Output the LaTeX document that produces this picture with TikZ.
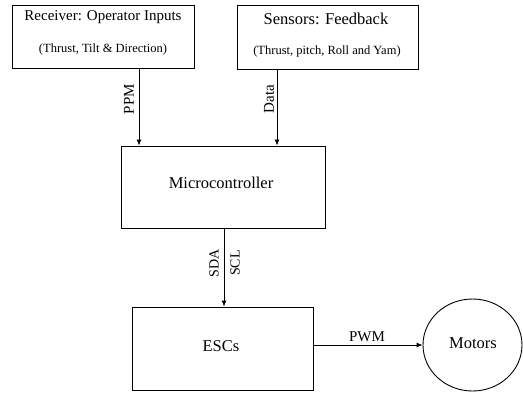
\documentclass[tikz,border=0pt]{standalone}
\usepackage{fontspec}
\setmainfont{Liberation Serif}
\usetikzlibrary{arrows.meta,shapes.geometric}
\begin{document}
\begin{tikzpicture}[x=1pt,y=-1pt,
  box/.style={draw,line width=0.9pt,rectangle,inner sep=0pt},
  lbl/.style={inner sep=0pt,font=\fontsize{16.5}{18}\selectfont},
  sublbl/.style={inner sep=0pt,font=\fontsize{12.5}{14}\selectfont},
  conlbl/.style={inner sep=0pt,font=\fontsize{15}{17}\selectfont},
  arr/.style={line width=0.9pt,-{Latex[length=6pt,width=5pt]}}]
\useasboundingbox[fill=white] (0,0) rectangle (523,397);
% boxes
\node[box,minimum width=182pt,minimum height=63pt] (rec) at (103,36.5) {};
\node[box,minimum width=181pt,minimum height=64pt] (sen) at (327.5,37) {};
\node[box,minimum width=204pt,minimum height=82pt] (mc) at (223,187) {};
\node[box,minimum width=181pt,minimum height=83pt] (esc) at (222.5,348.5) {};
\node[draw,line width=0.9pt,ellipse,inner sep=0pt,minimum width=99pt,minimum height=92pt] (mot) at (472.5,345) {};
% texts
\node[lbl,font=\fontsize{15}{17}\selectfont] (rect) at (103,17) {Receiver: Operator Inputs};
\node[sublbl] (recs) at (103,49) {(Thrust, Tilt \& Direction)};
\node[lbl] (sent) at (326,19) {Sensors: Feedback};
\node[sublbl] (sens) at (327,51) {(Thrust, pitch, Roll and Yam)};
\node[lbl] (mct) at (221,183) {Microcontroller};
\node[lbl] (esct) at (221,346) {ESCs};
\node[lbl] (mott) at (473,343) {Motors};
% connectors
\coordinate (p1) at (139,0);
\coordinate (p2) at (277,0);
\coordinate (p3) at (224,0);
\draw[arr] (p1 |- rec.south) -- (p1 |- mc.north);
\draw[arr] (p2 |- sen.south) -- (p2 |- mc.north);
\draw[arr] (p3 |- mc.south) -- (p3 |- esc.north);
\draw[arr] (esc.east |- mot.west) -- (mot.west);
% connector labels
\node[conlbl,rotate=90] (ppm) at (129,99) {PPM};
\node[conlbl,rotate=90] (data) at (269,99) {Data};
\node[conlbl,rotate=90,font=\fontsize{14}{16}\selectfont] (sda) at (214,263) {SDA};
\node[conlbl,rotate=90,font=\fontsize{14}{16}\selectfont] (scl) at (235,263) {SCL};
\node[conlbl] (pwm) at (367,337) {PWM};
\end{tikzpicture}
\end{document}
